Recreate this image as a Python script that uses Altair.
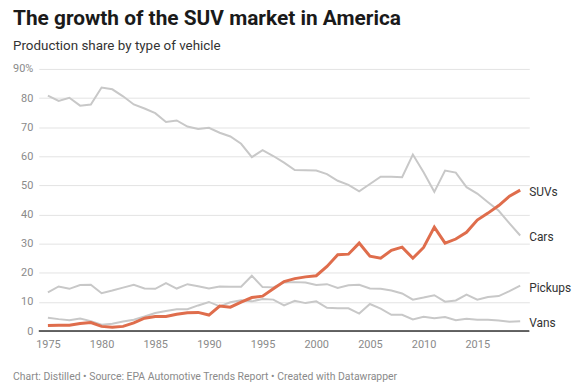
import altair as alt
import pandas as pd

years = list(range(1975, 2020))
cars = [80.8, 79.0, 80.1, 77.4, 77.8, 83.6, 83.0, 80.6, 77.8, 76.4,
        74.8, 71.8, 72.3, 70.2, 69.4, 69.8, 68.1, 66.8, 64.3, 59.7,
        62.1, 60.1, 57.8, 55.3, 55.2, 55.1, 53.9, 51.6, 50.2, 48.0,
        50.5, 53.0, 53.0, 52.8, 60.6, 54.5, 47.8, 55.1, 54.4, 49.4,
        47.2, 44.2, 41.3, 37.0, 32.8]
suvs = [1.9, 2.0, 2.0, 2.6, 2.9, 1.6, 1.3, 1.6, 2.8, 4.4,
        5.0, 5.0, 5.8, 6.3, 6.4, 5.5, 8.6, 8.2, 9.9, 11.5,
        12.0, 14.5, 17.0, 18.0, 18.6, 19.0, 22.2, 26.2, 26.4, 30.2,
        25.7, 25.0, 27.7, 28.8, 25.0, 28.7, 35.7, 30.2, 31.6, 33.9,
        38.1, 40.5, 43.1, 46.3, 48.4]
pickups = [13.3, 15.3, 14.5, 15.8, 15.9, 13.0, 13.9, 14.9, 15.9, 14.6,
           14.5, 16.5, 14.6, 16.1, 15.4, 14.6, 15.3, 15.2, 15.2, 19.0,
           15.1, 15.0, 16.7, 16.8, 16.7, 15.8, 16.1, 14.8, 15.7, 15.9,
           14.6, 14.5, 13.9, 12.9, 10.8, 11.5, 12.3, 10.1, 10.5, 12.5,
           10.8, 11.7, 12.0, 13.7, 15.6]
vans = [4.6, 4.1, 3.7, 4.3, 3.4, 2.2, 2.5, 3.3, 3.9, 5.0,
        6.2, 6.9, 7.5, 7.5, 8.8, 10.0, 8.5, 9.9, 10.6, 10.2,
        11.0, 10.8, 8.8, 10.4, 9.6, 10.2, 8.0, 7.8, 7.8, 6.0,
        9.3, 7.7, 5.6, 5.6, 4.0, 4.9, 4.4, 4.8, 3.7, 4.2,
        3.9, 3.9, 3.6, 3.2, 3.4]
series_names = ["Cars", "SUVs", "Pickups", "Vans"]
x_tick_values = [1975, 1980, 1985, 1990, 1995, 2000, 2005, 2010, 2015]
y_tick_values = [0, 10, 20, 30, 40, 50, 60, 70, 80, 90]

title_text = "The growth of the SUV market in America"
subtitle_text = "Production share by type of vehicle"
footer_text = "Chart: Distilled • Source: EPA Automotive Trends Report • Created with Datawrapper"

rows = []
for name, vals in zip(series_names, [cars, suvs, pickups, vans]):
    for yr, v in zip(years, vals):
        rows.append({"year": yr, "share": v, "type": name})
df = pd.DataFrame(rows)
last = df[df["year"] == years[-1]]

x_scale = alt.Scale(domain=[1974.15, 2019.85], nice=False, zero=False)
y_scale = alt.Scale(domain=[0, 90], nice=False)

x_axis = alt.Axis(values=x_tick_values, format="d", title=None, grid=False, domain=False,
                  ticks=False, labelColor="#8a8a8a", labelFontSize=11, labelPadding=8,
                  labelOverlap=False)
y_axis = alt.Axis(values=y_tick_values, title=None, grid=True, gridColor="#e3e3e3",
                  domain=False, ticks=False, labelColor="#8a8a8a", labelFontSize=11,
                  labelPadding=6, labelOverlap=False, tickCount=10,
                  labelExpr="datum.value == 90 ? '90%' : datum.label")

gray = alt.Chart(df).transform_filter(alt.datum.type != "SUVs").mark_line(
    color="#c8c8c8", strokeWidth=2).encode(
    x=alt.X("year:Q", scale=x_scale, axis=x_axis),
    y=alt.Y("share:Q", scale=y_scale, axis=y_axis),
    detail="type:N")

suv = alt.Chart(df).transform_filter(alt.datum.type == "SUVs").mark_line(
    color="#df6d4c", strokeWidth=3).encode(
    x=alt.X("year:Q", scale=x_scale, axis=x_axis),
    y=alt.Y("share:Q", scale=y_scale, axis=y_axis))

baseline = alt.Chart(pd.DataFrame({"v": [0]})).mark_rule(color="#333333", strokeWidth=1.5).encode(
    y=alt.Y("v:Q", scale=y_scale, axis=y_axis))

labels = alt.Chart(last).mark_text(align="left", baseline="middle", dx=9, dy=2,
                                   fontSize=12, color="#333333").encode(
    x=alt.X("year:Q", scale=x_scale, axis=x_axis),
    y=alt.Y("share:Q", scale=y_scale, axis=y_axis),
    text="type:N")

title = alt.Chart(pd.DataFrame({"t": [title_text]})).mark_text(
    align="left", baseline="alphabetic", fontSize=21, fontWeight="bold", color="#1a1a1a").encode(
    x=alt.value(-26), y=alt.value(-44.5), text="t:N")
subtitle = alt.Chart(pd.DataFrame({"t": [subtitle_text]})).mark_text(
    align="left", baseline="alphabetic", fontSize=13.5, color="#333333").encode(
    x=alt.value(-26), y=alt.value(-19.5), text="t:N")
footer = alt.Chart(pd.DataFrame({"t": [footer_text]})).mark_text(
    align="left", baseline="alphabetic", fontSize=10.5, color="#8a8a8a").encode(
    x=alt.value(-26), y=alt.value(313), text="t:N")

chart = alt.layer(gray, suv, baseline, labels, title, subtitle, footer).properties(
    width=494, height=264,
    autosize=alt.AutoSizeParams(type="none"),
    padding={"left": 31, "top": 60, "right": 45, "bottom": 57},
).configure(font="Roboto").configure_view(stroke=None)

chart.save("out.html", embed_options={"renderer": "svg", "actions": False})
